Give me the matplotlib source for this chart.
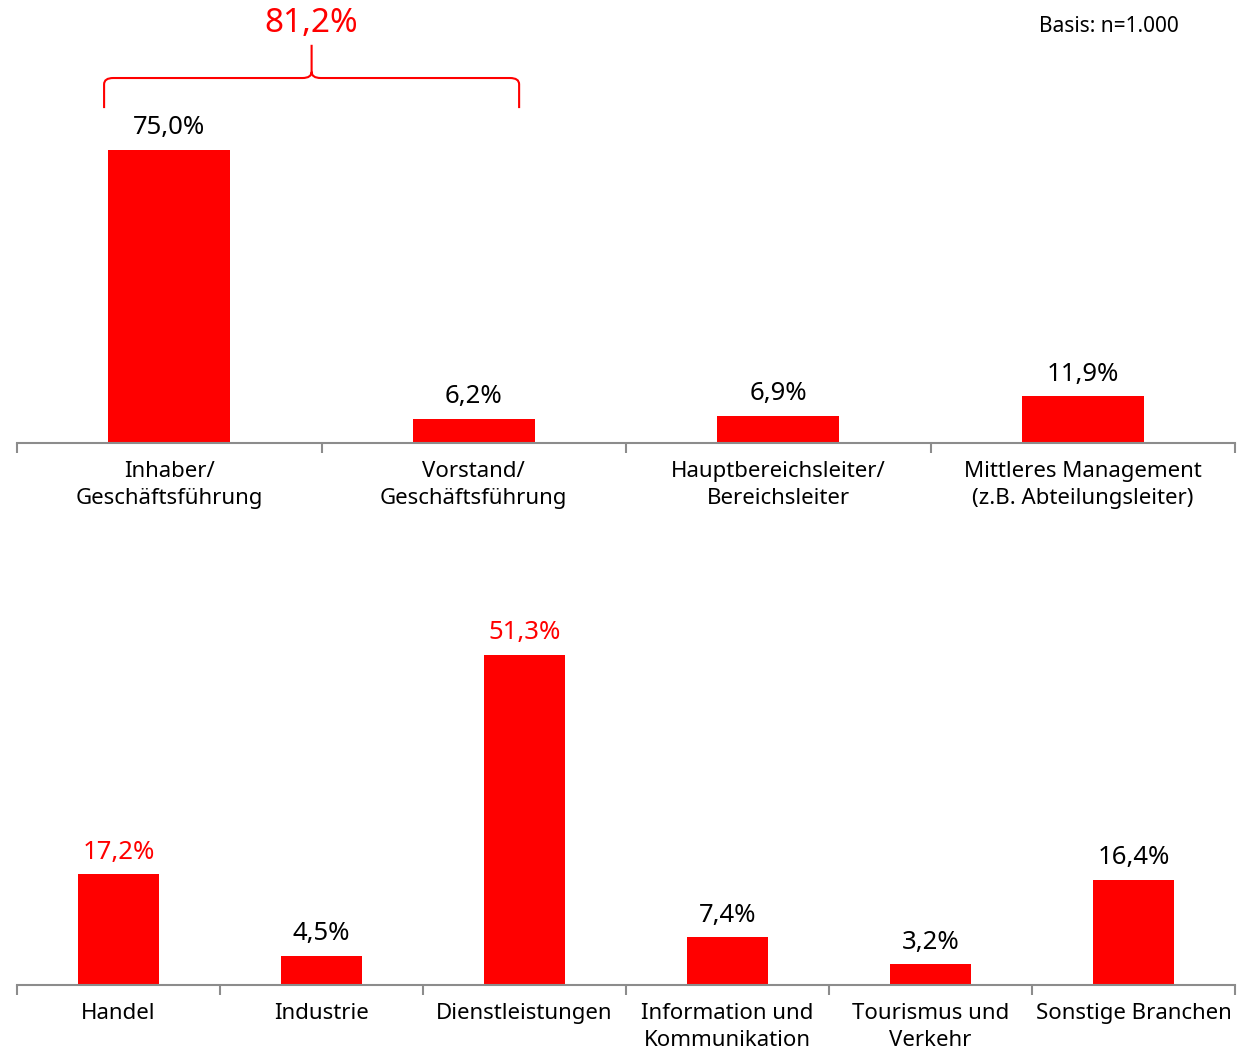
import matplotlib.pyplot as plt
from matplotlib.path import Path
from matplotlib.patches import PathPatch

plt.rcParams["font.family"] = ["Noto Sans", "DejaVu Sans"]

RED = "#ff0000"
GREY = "#8c8c8c"

# position in the company
pos_labels = ["Inhaber/\nGeschäftsführung", "Vorstand/\nGeschäftsführung",
              "Hauptbereichsleiter/\nBereichsleiter",
              "Mittleres Management\n(z.B. Abteilungsleiter)"]
pos_values = [75.0, 6.2, 6.9, 11.9]
pos_colors = ["black", "black", "black", "black"]
pos_group_total = 81.2

# industry sectors
sec_labels = ["Handel", "Industrie", "Dienstleistungen",
              "Information und\nKommunikation", "Tourismus und\nVerkehr",
              "Sonstige Branchen"]
sec_values = [17.2, 4.5, 51.3, 7.4, 3.2, 16.4]
sec_colors = [RED, "black", RED, "black", "black", "black"]


def fmt(v):
    return f"{v:.1f}%".replace(".", ",")


def bar_panel(ax, labels, values, colors, ymax):
    n = len(values)
    x = list(range(n))
    ax.bar(x, values, width=0.4, color=RED, zorder=2)
    for xi, v, c in zip(x, values, colors):
        ax.annotate(fmt(v), (xi, v), xytext=(0, 7), textcoords="offset points",
                    ha="center", va="bottom", fontsize=18.5, color=c)
    ax.set_xlim(-0.5, n - 0.5)
    ax.set_ylim(0, ymax)
    for side in ("top", "right", "left"):
        ax.spines[side].set_visible(False)
    ax.spines["bottom"].set_color(GREY)
    ax.spines["bottom"].set_linewidth(1.5)
    ax.set_yticks([])
    # boundary ticks between categories
    ax.set_xticks([i - 0.5 for i in range(n + 1)], minor=False)
    ax.set_xticklabels([])
    ax.tick_params(axis="x", which="major", length=7, width=1.5,
                   color=GREY, direction="out")
    ax.set_xticks(x, minor=True)
    ax.set_xticklabels(labels, minor=True, fontsize=16, linespacing=1.35)
    ax.tick_params(axis="x", which="minor", length=0, pad=13)


fig = plt.figure(figsize=(12.5, 10.51), dpi=100)
ax_top = fig.add_axes([0.0136, 0.5785, 0.9744, 0.393])
ax_bot = fig.add_axes([0.0136, 0.0628, 0.9744, 0.4044])

bar_panel(ax_top, pos_labels, pos_values, pos_colors, 105.7)
bar_panel(ax_bot, sec_labels, sec_values, sec_colors, 66.1)

# curly brace grouping the first two categories
x0, x1 = -0.214, 1.149
xm = (x0 + x1) / 2
y_low, y_mid, y_tip = 85.7, 93.4, 101.9
r = 0.03
ry = 1.6
verts = [
    (x0, y_low), (x0, y_mid - ry),
    (x0, y_mid), (x0 + r, y_mid),
    (xm - r, y_mid),
    (xm, y_mid), (xm, y_mid + ry),
    (xm, y_tip),
    (xm, y_mid + ry),
    (xm, y_mid), (xm + r, y_mid),
    (x1 - r, y_mid),
    (x1, y_mid), (x1, y_mid - ry),
    (x1, y_low),
]
codes = [Path.MOVETO, Path.LINETO,
         Path.CURVE3, Path.CURVE3,
         Path.LINETO,
         Path.CURVE3, Path.CURVE3,
         Path.LINETO,
         Path.MOVETO,
         Path.CURVE3, Path.CURVE3,
         Path.LINETO,
         Path.CURVE3, Path.CURVE3,
         Path.LINETO]
brace = PathPatch(Path(verts, codes), facecolor="none", edgecolor=RED,
                  linewidth=1.5, clip_on=False)
ax_top.add_patch(brace)
ax_top.text(xm, y_tip + 1.2, fmt(pos_group_total), ha="center", va="bottom",
            fontsize=24, color=RED, clip_on=False)

fig.text(0.943, 0.975, "Basis: n=1.000", ha="right", va="center",
         fontsize=15, color="black")

fig.savefig("out.png", dpi=100)
plt.close(fig)
